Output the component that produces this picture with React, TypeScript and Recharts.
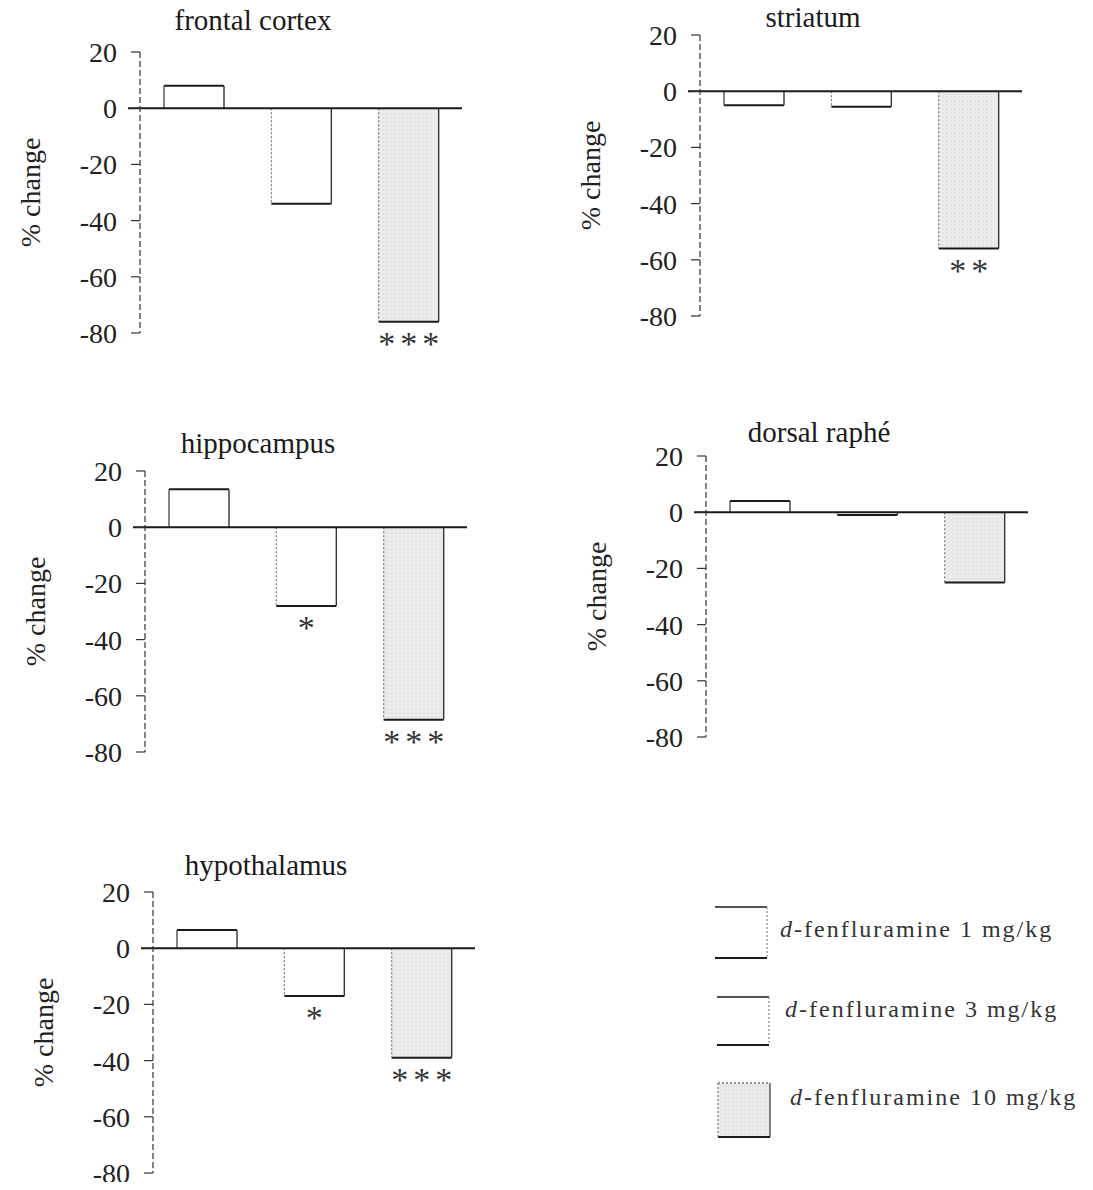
import { Bar, BarChart, LabelList, ReferenceLine, XAxis, YAxis } from "recharts";

const doses = ["1 mg/kg", "3 mg/kg", "10 mg/kg"];
const yTicks = [20, 0, -20, -40, -60, -80];

const frontalCortex = [8, -34, -76];
const striatum = [-5, -5.5, -56];
const hippocampus = [13.5, -28, -68.5];
const dorsalRaphe = [4, -1, -25];
const hypothalamus = [6.5, -17, -39];

const frontalStars = ["", "", "***"];
const striatumStars = ["", "", "**"];
const hippocampusStars = ["", "*", "***"];
const dorsalStars = ["", "", ""];
const hypothalamusStars = ["", "*", "***"];

const legendLabels = ["1 mg/kg", "3 mg/kg", "10 mg/kg"];

const serif = '"Liberation Serif", "Times New Roman", serif';
const ink = "#1a1a1a";

// page-space anchors for each panel (axis x, y of the 20 tick, title baseline)
const panels = [
  { title: "frontal cortex", values: frontalCortex, stars: frontalStars, axisX: 140, top: 52, titleY: 30 },
  { title: "striatum", values: striatum, stars: striatumStars, axisX: 700, top: 35, titleY: 27 },
  { title: "hippocampus", values: hippocampus, stars: hippocampusStars, axisX: 145, top: 471, titleY: 453 },
  { title: "dorsal raphé", values: dorsalRaphe, stars: dorsalStars, axisX: 706, top: 456, titleY: 442 },
  { title: "hypothalamus", values: hypothalamus, stars: hypothalamusStars, axisX: 153, top: 892, titleY: 875 },
];

const AXIS_W = 130;
const PLOT_W = 322;
const PLOT_H = 281;
const M = { top: 15, right: 10, bottom: 45, left: 0 };

function Stipple({ id }: { id: string }) {
  return (
    <pattern id={id} width={4} height={4} patternUnits="userSpaceOnUse">
      <rect width={4} height={4} fill="#ededed" />
      <circle cx={1} cy={1} r={0.5} fill="#b5b5b5" />
      <circle cx={3} cy={3} r={0.4} fill="#cfcfcf" />
    </pattern>
  );
}

function DoseBar(props: any) {
  const { x, y, width, height, index, payload, patternId } = props;
  if (x == null || y == null) return null;
  const top = Math.min(y, y + height);
  const h = Math.abs(height);
  const bottom = top + h;
  const far = payload && payload.value >= 0 ? top : bottom;
  const fill = index === 2 ? `url(#${patternId})` : "#fff";
  return (
    <g>
      <rect x={x} y={top} width={width} height={h} fill={fill} />
      <line x1={x} x2={x + width} y1={far} y2={far} stroke={ink} strokeWidth={2} />
      <line x1={x + width} x2={x + width} y1={top} y2={bottom} stroke="#333" strokeWidth={1.4} />
      <line
        x1={x}
        x2={x}
        y1={top}
        y2={bottom}
        stroke={index === 0 ? "#333" : "#777"}
        strokeWidth={1.2}
        strokeDasharray={index === 0 ? undefined : "2 2"}
      />
    </g>
  );
}

function renderStars(props: any) {
  const vb = props.viewBox ?? props;
  const { x, y, width, height } = vb;
  if (!props.value || x == null) return null;
  const bottom = Math.max(y, y + height);
  return (
    <text
      x={x + width / 2 + 2.5}
      y={bottom + 33}
      textAnchor="middle"
      fontFamily={serif}
      fontSize={34}
      letterSpacing={5}
      fill="#333"
    >
      {props.value}
    </text>
  );
}

function renderYLabel(props: any) {
  const vb = props.viewBox ?? { x: 0, y: M.top, width: AXIS_W, height: PLOT_H };
  const cx = vb.x + 20;
  const cy = vb.y + vb.height / 2;
  return (
    <text
      x={cx}
      y={cy}
      transform={`rotate(-90 ${cx} ${cy})`}
      textAnchor="middle"
      dominantBaseline="central"
      fontFamily={serif}
      fontSize={28}
      fill="#222"
    >
      % change
    </text>
  );
}

function ZeroLine(lp: any) {
  return <line x1={lp.x1 - 12} x2={lp.x2} y1={lp.y1} y2={lp.y2} stroke={ink} strokeWidth={2} />;
}

function RegionChart({ p, k }: { p: (typeof panels)[number]; k: number }) {
  const data = doses.map((dose, i) => ({ dose, value: p.values[i], stars: p.stars[i] }));
  const patternId = `stipple-${k}`;
  return (
    <>
      <div style={{ position: "absolute", left: p.axisX - AXIS_W - 8, top: p.top - M.top - 8 }}>
        <BarChart
          width={AXIS_W + PLOT_W + M.right}
          height={PLOT_H + M.top + M.bottom}
          data={data}
          margin={M}
          barSize={60}
          style={{ fontFamily: serif }}
        >
          <defs>
            <Stipple id={patternId} />
          </defs>
          <XAxis dataKey="dose" hide />
          <YAxis
            domain={[-80, 20]}
            ticks={yTicks}
            interval={0}
            width={AXIS_W}
            tickSize={9}
            tickMargin={14}
            axisLine={{ stroke: "#333", strokeWidth: 1.2, strokeDasharray: "6 3" }}
            tickLine={{ stroke: "#333", strokeWidth: 1.2 }}
            tick={{ fontSize: 28, fill: "#222", fontFamily: serif }}
            label={renderYLabel}
          />
          <Bar
            dataKey="value"
            isAnimationActive={false}
            shape={(sp: any) => <DoseBar {...sp} patternId={patternId} />}
          >
            <LabelList dataKey="stars" content={renderStars} />
          </Bar>
          <ReferenceLine y={0} shape={ZeroLine} />
        </BarChart>
      </div>
      <div
        style={{
          position: "absolute",
          left: p.axisX - 8 + 113 - 200,
          width: 400,
          top: p.titleY - 8 - 24,
          textAlign: "center",
          fontSize: 29,
          lineHeight: "29px",
          color: ink,
        }}
      >
        {p.title}
      </div>
    </>
  );
}

const legendBoxes = [
  { left: 707, top: 899, h: 51 },
  { left: 709, top: 989, h: 48 },
  { left: 710, top: 1075, h: 54 },
];
const legendTextY = [937, 1017, 1105];

function LegendBox({ i, h }: { i: number; h: number }) {
  const w = 52;
  return (
    <svg width={w + 4} height={h + 4}>
      <defs>
        <Stipple id={`legend-stipple-${i}`} />
      </defs>
      <rect x={2} y={2} width={w} height={h} fill={i === 2 ? `url(#legend-stipple-${i})` : "#fff"} />
      <line x1={2} x2={w + 2} y1={2} y2={2} stroke={i === 2 ? "#777" : ink} strokeWidth={1.6} strokeDasharray={i === 2 ? "2 2" : undefined} />
      <line x1={2} x2={w + 2} y1={h + 2} y2={h + 2} stroke={ink} strokeWidth={2} />
      <line x1={w + 2} x2={w + 2} y1={2} y2={h + 2} stroke={i === 2 ? "#333" : "#888"} strokeWidth={1.2} strokeDasharray={i === 2 ? undefined : "2 2"} />
      {i === 2 && <line x1={2} x2={2} y1={2} y2={h + 2} stroke="#777" strokeWidth={1.2} strokeDasharray="2 2" />}
    </svg>
  );
}

export default function App() {
  return (
    <div style={{ position: "relative", width: 1077, height: 1174, background: "#fff", fontFamily: serif }}>
      {panels.map((p, k) => (
        <RegionChart key={p.title} p={p} k={k} />
      ))}
      {legendLabels.map((lab, i) => (
        <div key={lab}>
          <div style={{ position: "absolute", left: legendBoxes[i].left - 2, top: legendBoxes[i].top - 2, lineHeight: 0 }}>
            <LegendBox i={i} h={legendBoxes[i].h} />
          </div>
          <div
            style={{
              position: "absolute",
              left: 780 - 8 + i * 5,
              top: legendTextY[i] - 8 - 20,
              fontSize: 24,
              lineHeight: "24px",
              letterSpacing: 2,
              color: "#333",
              whiteSpace: "nowrap",
            }}
          >
            <i>d</i>-fenfluramine {lab}
          </div>
        </div>
      ))}
    </div>
  );
}
